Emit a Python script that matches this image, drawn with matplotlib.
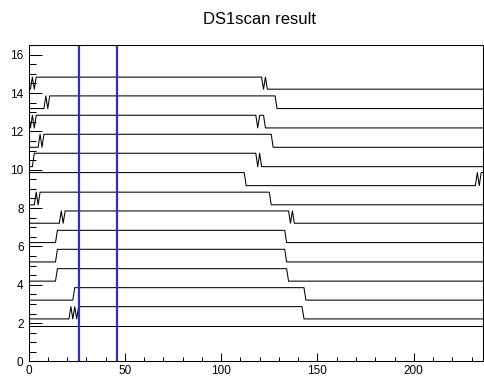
import matplotlib
matplotlib.use("Agg")
import matplotlib.pyplot as plt
from matplotlib.ticker import MultipleLocator

plt.rcParams['font.family'] = ['Liberation Sans', 'DejaVu Sans']

# scan channels, top to bottom: low level, high level, starting state, toggle positions
channel_low = [14.20, 13.19, 12.18, 11.17, 10.16, 9.17, 8.17, 7.21, 6.20, 5.19, 4.19, 3.20, 2.22, 1.87]
channel_high = [14.83, 13.85, 12.84, 11.85, 10.86, 9.85, 8.83, 7.85, 6.84, 5.85, 4.84, 3.85, 2.86, 1.87]
start_high = [False, False, True, False, False, True, False, False, False, False, False, False, False, True]
toggles = [
    [1, 2, 3, 121, 122, 123],
    [8, 9, 10, 128],
    [0, 1, 2, 3, 118, 119, 122],
    [5, 6, 7, 126],
    [2, 118, 119, 120],
    [112, 232, 233, 234],
    [3, 4, 5, 125],
    [16, 17, 18, 135, 136, 137],
    [14, 133],
    [14, 133],
    [14, 134],
    [23, 143],
    [21, 22, 23, 24, 25, 142],
    [],
]
x_end = 236
cut_lines = [26.4, 45.8]

fig = plt.figure(figsize=(4.85, 3.76), dpi=100)
ax = fig.add_axes([0.0588, 0.0386, 0.9381, 0.8415])

for lo, hi, up, tg in zip(channel_low, channel_high, start_high, toggles):
    state = up
    xs, ys = [0], [hi if state else lo]
    for t in tg:
        xs.append(t)
        ys.append(hi if state else lo)
        state = not state
        xs.append(t + 1)
        ys.append(hi if state else lo)
    xs.append(x_end)
    ys.append(hi if state else lo)
    ax.plot(xs, ys, color='black', lw=0.75)

for xc in cut_lines:
    ax.axvline(xc, color='#2f2fbf', lw=1.6)

ax.set_xlim(0, 236.2)
ax.set_ylim(0, 16.5)
ax.xaxis.set_major_locator(MultipleLocator(50))
ax.xaxis.set_minor_locator(MultipleLocator(10))
ax.yaxis.set_major_locator(MultipleLocator(2))
ax.yaxis.set_minor_locator(MultipleLocator(0.5))
ax.tick_params(axis='both', which='both', direction='in', width=0.75, labelsize=8.5)
ax.tick_params(axis='y', which='major', length=9.4, pad=3.6)
ax.tick_params(axis='y', which='minor', length=4.7)
ax.tick_params(axis='x', which='major', length=6, pad=2.5)
ax.tick_params(axis='x', which='minor', length=2.9)
for sp in ax.spines.values():
    sp.set_linewidth(0.75)

fig.text(0.536, 0.948, 'DS1scan result', ha='center', va='center', fontsize=12)

fig.savefig('out.png', dpi=100)
